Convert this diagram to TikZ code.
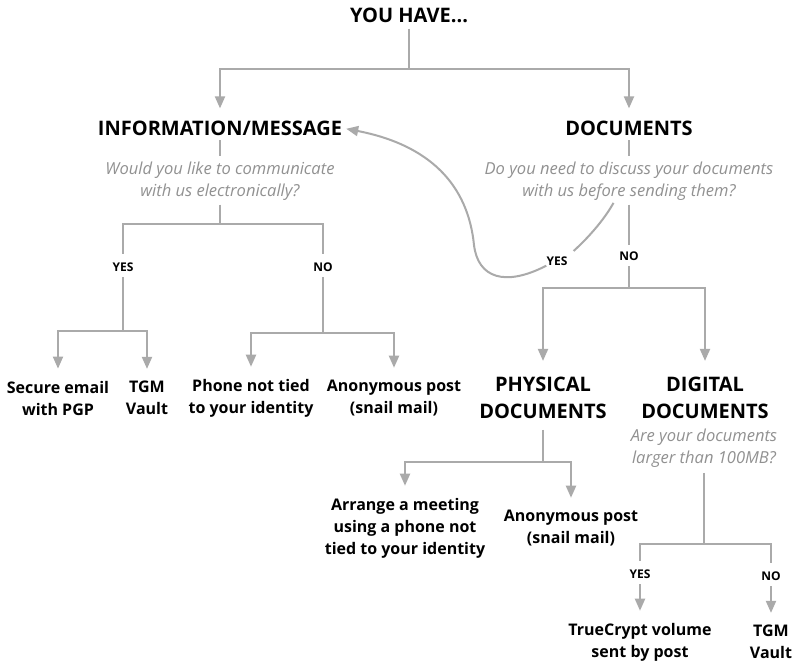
\documentclass[tikz,border=0pt]{standalone}
\usepackage{fontspec}
\setmainfont{Open Sans}
\usetikzlibrary{arrows.meta}
\definecolor{lc}{RGB}{170,170,170}
\definecolor{qc}{RGB}{145,145,145}
\begin{document}
\begin{tikzpicture}[x=0.75pt,y=-0.75pt,
 ln/.style={draw=lc, line width=1.5pt},
 arr/.style={ln, -{Triangle[width=7.5pt,length=9pt]}, shorten >=9pt},
 head/.style={font=\bfseries\fontsize{15}{20.25}\selectfont, align=center, inner sep=0pt},
 leaf/.style={font=\bfseries\fontsize{12}{16.5}\selectfont, align=center, inner sep=0pt},
 quest/.style={font=\itshape\fontsize{12.4}{16.5}\selectfont, text=qc, align=center, inner sep=0pt},
 yn/.style={font=\bfseries\fontsize{9}{10}\selectfont, inner sep=0pt},
]
\useasboundingbox[fill=white] (0,0) rectangle (800,668);

\node[head] (top) at (409,15) {YOU HAVE...};
\node[head] (info) at (220,128) {INFORMATION/MESSAGE};
\node[head] (docs) at (629,128) {DOCUMENTS};
\node[quest] (q1) at (220,181) {Would you like to communicate\\with us electronically?};
\node[quest] (q2) at (629,181) {Do you need to discuss your documents\\with us before sending them?};
\node[yn] (yes1) at (123,267) {YES};
\node[yn] (no1) at (323,267) {NO};
\node[leaf] (pgp) at (58,398) {Secure email\\with PGP};
\node[leaf] (vault1) at (147,398) {TGM\\Vault};
\node[leaf] (phone) at (251,398) {Phone not tied\\to your identity};
\node[leaf] (post1) at (394,398) {Anonymous post\\(snail mail)};
\node[yn] (yes2) at (557,261) {YES};
\node[yn] (no2) at (629,256) {NO};
\node[head] (phys) at (543,398) {PHYSICAL\\DOCUMENTS};
\node[head] (dig) at (705,398) {DIGITAL\\DOCUMENTS};
\node[quest] (q3) at (704,448) {Are your documents\\larger than 100MB?};
\node[leaf] (meet) at (405,528) {Arrange a meeting\\using a phone not\\tied to your identity};
\node[leaf] (post2) at (571,528) {Anonymous post\\(snail mail)};
\node[yn] (yes3) at (640,574) {YES};
\node[yn] (no3) at (771,576) {NO};
\node[leaf] (tc) at (640,642) {TrueCrypt volume\\sent by post};
\node[leaf] (vault2) at (771,642) {TGM\\Vault};

\coordinate (j0) at (409,69);
\draw[ln, shorten <=4.5pt] (top) -- (j0);
\draw[arr] (j0) -| (info);
\draw[arr] (j0) -| (docs);

\draw[ln, shorten <=3.5pt, shorten >=4pt] (info) -- (q1);
\draw[ln, shorten <=3.5pt, shorten >=4pt] (docs) -- (q2);

\coordinate (j1) at (220,224);
\draw[ln, shorten <=3pt] (q1) -- (j1);
\draw[ln, shorten >=6pt] (j1) -| (yes1);
\draw[ln, shorten >=6pt] (j1) -| (no1);
\coordinate (j2) at (123,331);
\draw[ln, shorten <=4pt] (yes1) -- (j2);
\draw[arr] (j2) -| (pgp);
\draw[arr] (j2) -| (vault1);
\coordinate (j3) at (323,333);
\draw[ln, shorten <=4pt] (no1) -- (j3);
\draw[arr] (j3) -| (phone);
\draw[arr] (j3) -| (post1);

\draw[ln, shorten <=2pt, shorten >=6pt] (q2.234) .. controls (604,220) and (588,238) .. (yes2.north east);
\draw[arr, shorten >=3pt] (yes2.south west) .. controls (505,287) and (478,278) .. (474,245)
   .. controls (468,185) and (430,145) .. (info.east);

\coordinate (j4) at (629,288);
\draw[ln, shorten <=3pt, shorten >=5pt] (q2) -- (no2);
\draw[ln, shorten <=4pt] (no2) -- (j4);
\draw[arr, shorten >=12pt] (j4) -| (phys);
\draw[arr, shorten >=12pt] (j4) -| (dig);

\coordinate (j5) at (543,462);
\draw[ln, shorten <=8pt] (phys) -- (j5);
\draw[arr] (j5) -| (meet);
\draw[arr] (j5) -| (post2);

\coordinate (j6) at (704,544);
\draw[ln, shorten <=4pt] (q3) -- (j6);
\draw[ln, shorten >=6pt] (j6) -| (yes3);
\draw[ln, shorten >=6pt] (j6) -| (no3);
\draw[arr, shorten <=4pt] (yes3) -- (tc);
\draw[arr, shorten <=4pt] (no3) -- (vault2);
\end{tikzpicture}
\end{document}
